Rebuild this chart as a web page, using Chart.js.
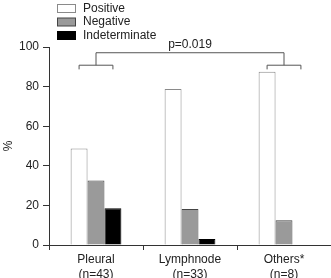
<!DOCTYPE html>
<html>
<head>
<meta charset="utf-8">
<script src="https://cdn.jsdelivr.net/npm/chart.js@4"></script>
<style>
  html, body { margin: 0; padding: 0; background: #fff; }
  canvas { display: block; }
</style>
</head>
<body>
<canvas id="chart" width="331" height="278"></canvas>
<script>
// data
const categories = [['Pleural', '(n=43)'], ['Lymphnode', '(n=33)'], ['Others*', '(n=8)']];
const positive = [48.8, 78.8, 87.5];
const negative = [32.6, 18.2, 12.5];
const indeterminate = [18.6, 3.0, null];
const yTicks = [0, 20, 40, 60, 80, 100];

// comparison bracket: Pleural vs Others*
const bracketGroups = [0, 2];
const bracketLevels = [88.7, 90.8, 97.1]; // tick ends, group bar, top bar
const pText = 'p=0.019';

const textColor = '#222';
const axisColor = '#333';

const bracketPlugin = {
  id: 'bracket',
  afterDatasetsDraw(chart) {
    const x = chart.scales.x, y = chart.scales.y;
    const ctx = chart.ctx;
    const half = (x.getPixelForValue(1) - x.getPixelForValue(0)) * 0.18;
    const yEnd = y.getPixelForValue(bracketLevels[0]);
    const yMid = y.getPixelForValue(bracketLevels[1]);
    const yTop = y.getPixelForValue(bracketLevels[2]);
    const cx = bracketGroups.map(i => x.getPixelForValue(i));
    ctx.save();
    ctx.strokeStyle = '#555';
    ctx.lineWidth = 1;
    ctx.beginPath();
    cx.forEach(c => {
      ctx.moveTo(c - half, yEnd);
      ctx.lineTo(c - half, yMid);
      ctx.lineTo(c + half, yMid);
      ctx.lineTo(c + half, yEnd);
    });
    ctx.moveTo(cx[0], yMid);
    ctx.lineTo(cx[0], yTop);
    ctx.lineTo(cx[1], yTop);
    ctx.lineTo(cx[1], yMid);
    ctx.stroke();
    ctx.fillStyle = textColor;
    ctx.font = '12px "Liberation Sans", Arial, sans-serif';
    ctx.textAlign = 'center';
    ctx.textBaseline = 'bottom';
    ctx.fillText(pText, (cx[0] + cx[1]) / 2, yTop - 2);
    ctx.restore();
  }
};

// legend stacked in the top-left corner
const legendPlugin = {
  id: 'stackLegend',
  afterDraw(chart) {
    const ctx = chart.ctx;
    ctx.save();
    ctx.font = '12px "Liberation Sans", Arial, sans-serif';
    ctx.textBaseline = 'middle';
    chart.data.datasets.forEach((ds, i) => {
      const top = 4 + i * 13.5;
      ctx.fillStyle = ds.backgroundColor;
      ctx.fillRect(57.5, top + 0.5, 18, 8);
      ctx.strokeStyle = ds.borderColor;
      ctx.lineWidth = 1;
      ctx.strokeRect(57.5, top + 0.5, 18, 8);
      ctx.fillStyle = textColor;
      ctx.fillText(ds.label, 83, top + 4.5);
    });
    ctx.restore();
  }
};

new Chart(document.getElementById('chart'), {
  type: 'bar',
  data: {
    labels: categories,
    datasets: [
      {
        label: 'Positive',
        data: positive,
        backgroundColor: '#ffffff',
        borderColor: '#8a8a8a',
        borderWidth: 1,
        borderSkipped: 'bottom',
        categoryPercentage: 0.54,
        barPercentage: 1
      },
      {
        label: 'Negative',
        data: negative,
        backgroundColor: '#9a9a9a',
        borderColor: '#444444',
        borderWidth: 1,
        borderSkipped: 'bottom',
        categoryPercentage: 0.54,
        barPercentage: 1
      },
      {
        label: 'Indeterminate',
        data: indeterminate,
        backgroundColor: '#000000',
        borderColor: '#000000',
        borderWidth: 1,
        borderSkipped: 'bottom',
        categoryPercentage: 0.54,
        barPercentage: 1
      }
    ]
  },
  options: {
    responsive: false,
    animation: false,
    events: [],
    layout: {
      padding: { top: 47, right: 0, left: 0, bottom: 0 }
    },
    plugins: {
      legend: { display: false },
      tooltip: { enabled: false }
    },
    scales: {
      x: {
        offset: true,
        grid: {
          offset: true,
          drawOnChartArea: false,
          drawTicks: true,
          tickLength: 5,
          color: axisColor
        },
        border: { display: true, color: axisColor },
        ticks: {
          color: textColor,
          padding: 2,
          font: { family: '"Liberation Sans", Arial, sans-serif', size: 12, lineHeight: 1.25 }
        },
        afterFit(scale) { scale.height = 33; }
      },
      y: {
        min: 0,
        max: 100,
        afterBuildTicks(scale) { scale.ticks = yTicks.map(v => ({ value: v })); },
        grid: {
          drawOnChartArea: false,
          drawTicks: true,
          tickLength: 6,
          color: axisColor
        },
        border: { display: true, color: axisColor },
        ticks: {
          color: textColor,
          padding: 4,
          font: { family: '"Liberation Sans", Arial, sans-serif', size: 12 }
        },
        title: {
          display: true,
          text: '%',
          color: textColor,
          font: { family: '"Liberation Sans", Arial, sans-serif', size: 12 },
          padding: { top: 1, bottom: 0 }
        },
        afterFit(scale) { scale.width = 49; }
      }
    }
  },
  plugins: [bracketPlugin, legendPlugin]
});
</script>
</body>
</html>
